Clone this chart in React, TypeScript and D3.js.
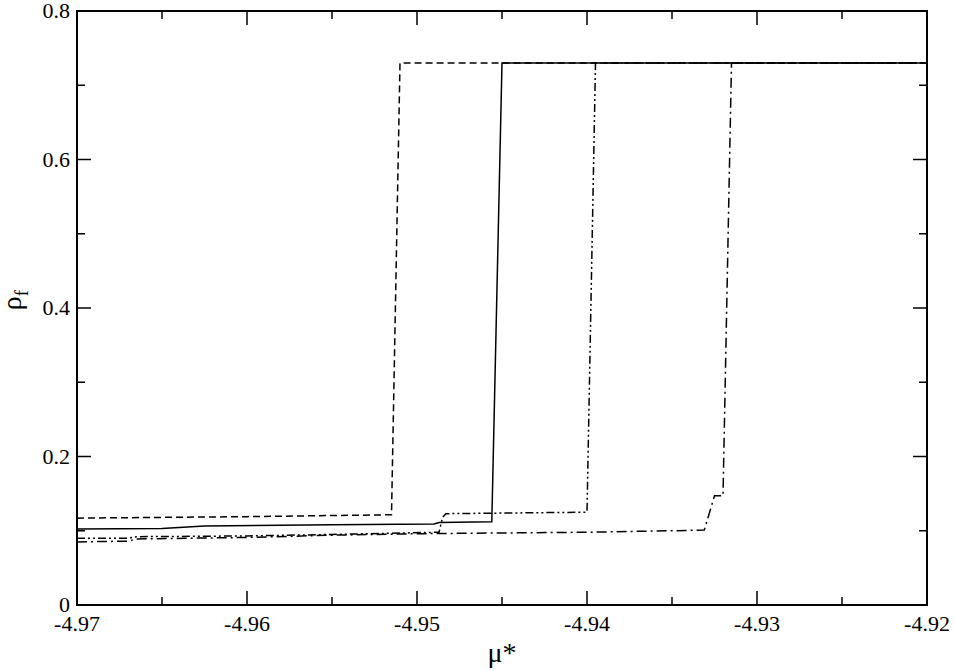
import React from "react";
import * as d3 from "d3";

const W = 954;
const H = 671;
const M = { left: 77, right: 27, top: 11, bottom: 66 };

const xMajorTicks = [-4.97, -4.96, -4.95, -4.94, -4.93, -4.92];
const xTickLabels = ["-4.97", "-4.96", "-4.95", "-4.94", "-4.93", "-4.92"];
const xMinorTicks = [-4.965, -4.955, -4.945, -4.935, -4.925];
const yMajorTicks = [0, 0.2, 0.4, 0.6, 0.8];
const yTickLabels = ["0", "0.2", "0.4", "0.6", "0.8"];
const yMinorTicks = [0.1, 0.3, 0.5, 0.7];

// dashed series
const dashedMu = [-4.97, -4.965, -4.96, -4.955, -4.9515, -4.951, -4.92];
const dashedRho = [0.117, 0.118, 0.119, 0.1205, 0.1215, 0.73, 0.73];

// solid series
const solidMu = [-4.97, -4.965, -4.9635, -4.9625, -4.955, -4.949, -4.9487, -4.9456, -4.945, -4.92];
const solidRho = [0.1025, 0.103, 0.105, 0.1065, 0.108, 0.109, 0.111, 0.112, 0.73, 0.73];

// dash-dot-dot series
const ddotMu = [-4.97, -4.967, -4.9665, -4.96, -4.955, -4.9487, -4.9485, -4.9483, -4.94, -4.9395, -4.92];
const ddotRho = [0.09, 0.09, 0.092, 0.093, 0.095, 0.098, 0.118, 0.123, 0.125, 0.73, 0.73];

// dash-dot series
const dotMu = [-4.97, -4.967, -4.9665, -4.96, -4.955, -4.95, -4.945, -4.94, -4.935, -4.9331, -4.9325, -4.932, -4.9315, -4.92];
const dotRho = [0.085, 0.086, 0.089, 0.091, 0.094, 0.096, 0.097, 0.098, 0.1, 0.101, 0.147, 0.147, 0.73, 0.73];

const series = [
  { mu: dashedMu, rho: dashedRho, dash: "7,4" },
  { mu: solidMu, rho: solidRho, dash: "none" },
  { mu: ddotMu, rho: ddotRho, dash: "8,3,2,3,2,3" },
  { mu: dotMu, rho: dotRho, dash: "10,4,2,4" },
];

const FONT = "Liberation Serif, DejaVu Serif, serif";

export default function App() {
  const x = d3.scaleLinear().domain([-4.97, -4.92]).range([M.left, W - M.right]);
  const y = d3.scaleLinear().domain([0, 0.8]).range([H - M.bottom, M.top]);
  const line = d3
    .line<[number, number]>()
    .x((d) => x(d[0]))
    .y((d) => y(d[1]));

  const x0 = M.left;
  const x1 = W - M.right;
  const y0 = H - M.bottom;
  const y1 = M.top;
  const major = 14;
  const minor = 8;

  return (
    <svg
      width={W}
      height={H}
      style={{ position: "absolute", left: 0, top: 0, background: "#fff" }}
    >
      <rect x={0} y={0} width={W} height={H} fill="#fff" />
      {series.map((s, i) => (
        <path
          key={i}
          d={line(s.mu.map((m, j) => [m, s.rho[j]] as [number, number])) || ""}
          fill="none"
          stroke="#000"
          strokeWidth={1.5}
          strokeDasharray={s.dash}
        />
      ))}
      <g stroke="#000" strokeWidth={1.5}>
        {xMajorTicks.map((t) => (
          <g key={"xm" + t}>
            <line x1={x(t)} x2={x(t)} y1={y0} y2={y0 - major} />
            <line x1={x(t)} x2={x(t)} y1={y1} y2={y1 + major} />
          </g>
        ))}
        {xMinorTicks.map((t) => (
          <g key={"xn" + t}>
            <line x1={x(t)} x2={x(t)} y1={y0} y2={y0 - minor} />
            <line x1={x(t)} x2={x(t)} y1={y1} y2={y1 + minor} />
          </g>
        ))}
        {yMajorTicks.map((t) => (
          <g key={"ym" + t}>
            <line x1={x0} x2={x0 + major} y1={y(t)} y2={y(t)} />
            <line x1={x1} x2={x1 - major} y1={y(t)} y2={y(t)} />
          </g>
        ))}
        {yMinorTicks.map((t) => (
          <g key={"yn" + t}>
            <line x1={x0} x2={x0 + minor} y1={y(t)} y2={y(t)} />
            <line x1={x1} x2={x1 - minor} y1={y(t)} y2={y(t)} />
          </g>
        ))}
      </g>
      <rect x={x0} y={y1} width={x1 - x0} height={y0 - y1} fill="none" stroke="#000" strokeWidth={2} />
      <g fontFamily={FONT}>
        {xMajorTicks.map((t, i) => (
          <text key={"xl" + t} x={x(t)} y={y0 + 26} textAnchor="middle" fontSize={22}>
            {xTickLabels[i]}
          </text>
        ))}
        {yMajorTicks.map((t, i) => (
          <text key={"yl" + t} x={x0 - 7} y={y(t) + 7} textAnchor="end" fontSize={22}>
            {yTickLabels[i]}
          </text>
        ))}
        <text x={(x0 + x1) / 2} y={662} textAnchor="middle" fontSize={28}>
          μ*
        </text>
        <text transform="translate(21,300) rotate(-90)" textAnchor="middle" fontSize={28}>
          <tspan>ρ</tspan>
          <tspan fontSize={19} dy={7}>f</tspan>
        </text>
      </g>
    </svg>
  );
}
